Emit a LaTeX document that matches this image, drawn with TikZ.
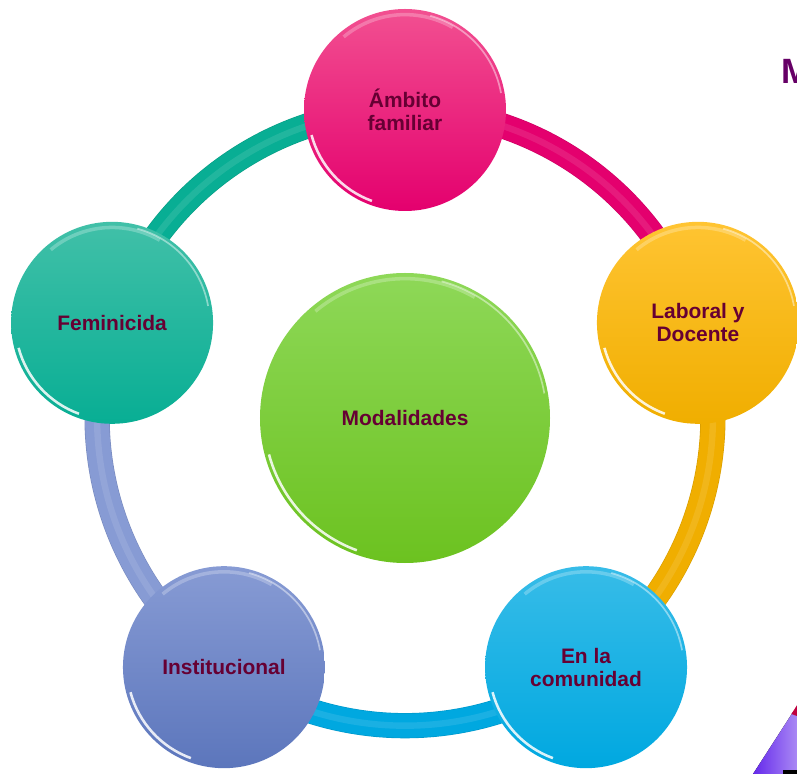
\documentclass[tikz,border=0pt]{standalone}
\usepackage{fontspec}
\setmainfont{Liberation Sans}
\usetikzlibrary{positioning,backgrounds}
\definecolor{txt}{RGB}{102,0,51}
\definecolor{ttl}{RGB}{102,0,102}
\definecolor{pinkA}{RGB}{242,80,145}
\definecolor{pinkB}{RGB}{228,0,110}
\definecolor{goldA}{RGB}{255,196,50}
\definecolor{goldB}{RGB}{240,174,0}
\definecolor{skyA}{RGB}{55,188,232}
\definecolor{skyB}{RGB}{0,168,224}
\definecolor{lavA}{RGB}{135,155,212}
\definecolor{lavB}{RGB}{92,118,188}
\definecolor{tealA}{RGB}{65,192,168}
\definecolor{tealB}{RGB}{8,174,148}
\definecolor{grnA}{RGB}{142,216,88}
\definecolor{grnB}{RGB}{108,194,32}
\definecolor{vio}{RGB}{100,40,235}
\newcommand{\RING}{7.7cm}

\begin{document}
\begin{tikzpicture}[
    bubble/.style={circle, minimum size=2*#1, inner sep=0pt, align=center,
      text=txt, font=\bfseries\fontsize{14.9}{16.5}\selectfont,
      path picture={
        \draw[white,opacity=.85,line width=1.8pt]
          (path picture bounding box.center) ++(195:{#1-3pt})
          arc[start angle=195,end angle=250,radius={#1-3pt}];
        \draw[white,opacity=.45,line width=1.2pt]
          (path picture bounding box.center) ++(10:{#1-2.5pt})
          arc[start angle=10,end angle=75,radius={#1-2.5pt}];
        \draw[white,opacity=.25,line width=2.5pt]
          (path picture bounding box.center) ++(60:{#1-4pt})
          arc[start angle=60,end angle=130,radius={#1-4pt}];
      }},
    tube/.style={line width=0.6cm, draw=#1,
      preaction={draw=#1!90!black, line width=0.63cm},
      postaction={draw=white, opacity=.1, line width=0.16cm}}
  ]
  \useasboundingbox (-10.125,-8.9) rectangle (9.8,10.45);

  % centre and the five modalities
  \node[bubble=3.625cm, top color=grnA, bottom color=grnB] (mod) at (0,0) {Modalidades};
  \node[bubble=2.525cm, top color=pinkA, bottom color=pinkB] (fam) at (90:\RING) {Ámbito\\familiar};
  \node[bubble=2.525cm, top color=goldA, bottom color=goldB] (lab) at (18:\RING) {Laboral y\\Docente};
  \node[bubble=2.525cm, top color=skyA, bottom color=skyB] (com) at (-54:\RING) {En la\\comunidad};
  \node[bubble=2.525cm, top color=lavA, bottom color=lavB] (inst) at (234:\RING) {Institucional};
  \node[bubble=2.525cm, top color=tealA, bottom color=tealB] (fem) at (162:\RING) {Feminicida};

  % ring behind the circles
  \begin{scope}[on background layer]
    \foreach \a/\b/\c in {fam/lab/pinkB, lab/com/goldB, com/inst/skyB, inst/fem/lavA, fem/fam/tealB}{
      \draw[tube=\c] (\a.center) to[bend left=36, looseness=0.94] (\b.center);
    }
  \end{scope}

  % cut-off bits at the right edge
  \node[anchor=base west, inner sep=0pt, text=ttl, font=\bfseries\fontsize{25}{25}\selectfont] (ttl) at (9.4,8.35) {M};
  \fill[left color=vio, right color=vio!55!white] (8.7,-8.9) -- (9.7,-7.35) -- (9.8,-7.25) -- (9.8,-8.9) -- cycle;
  \fill[purple] (9.66,-7.4) -- (9.8,-7.18) -- (9.8,-7.45) -- cycle;
  \fill[black] (9.45,-8.9) rectangle (9.8,-8.8);
\end{tikzpicture}
\end{document}
